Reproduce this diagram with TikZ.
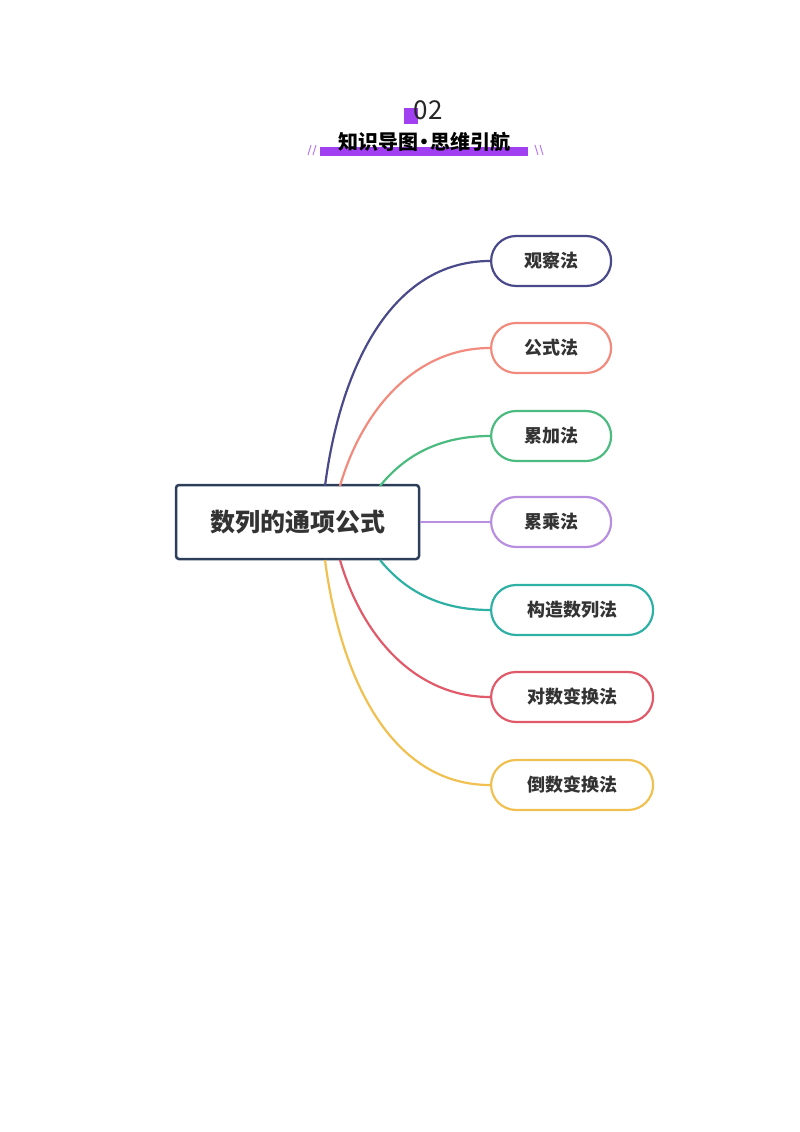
\documentclass[tikz,border=0pt]{standalone}
\usepackage{fontspec}
\setmainfont{Noto Sans CJK SC}
\begin{document}
\begin{tikzpicture}[x=1pt,y=-1pt]
\definecolor{cnavy}{HTML}{2C3E5A}
\definecolor{c1}{HTML}{4A4A8A}
\definecolor{c2}{HTML}{F28B7D}
\definecolor{c3}{HTML}{4CBB7F}
\definecolor{c4}{HTML}{B88FE0}
\definecolor{c5}{HTML}{2FB0A5}
\definecolor{c6}{HTML}{E05A6A}
\definecolor{c7}{HTML}{F0C050}
\definecolor{cpur}{HTML}{A040F0}
\tikzset{pill/.style={draw=#1,line width=2.2pt,rounded corners=25pt,minimum height=50pt,anchor=west,font=\bfseries\fontsize{18}{18}\selectfont,text=black!80,inner sep=0pt},
 conn/.style={draw=#1,line width=2.2pt}}
\useasboundingbox (0,0) rectangle (800,1132);
% header
\fill[cpur] (404,108) rectangle (418,124);
\node[font=\fontsize{26}{26}\selectfont,text=black!85] (num) at (428,110) {02};
\fill[cpur] (320,147) rectangle (528,156);
\node[font=\bfseries\fontsize{20}{20}\selectfont] (title) at (424,142) {知识导图{\kern-4pt}·{\kern-4pt}思维引航};
\draw[cpur!70,line width=1pt] (308,155)--(311,145) (313,155)--(316,145) (535,145)--(538,155) (540,145)--(543,155);
% center
\node[draw=cnavy,line width=2.5pt,rounded corners=3pt,minimum width=243pt,minimum height=74pt,font=\bfseries\fontsize{25}{25}\selectfont,text=black!80] (root) at (297.5,522) {数列的通项公式};
\node[pill=c1,minimum width=120pt] (n1) at (490,261) {观察法};
\node[pill=c2,minimum width=120pt] (n2) at (490,348) {公式法};
\node[pill=c3,minimum width=120pt] (n3) at (490,436) {累加法};
\node[pill=c4,minimum width=120pt] (n4) at (490,522) {累乘法};
\node[pill=c5,minimum width=162pt] (n5) at (490,610) {构造数列法};
\node[pill=c6,minimum width=162pt] (n6) at (490,697) {对数变换法};
\node[pill=c7,minimum width=162pt] (n7) at (490,785) {倒数变换法};
\coordinate (s1) at (325,486); \coordinate (s2) at (340,486); \coordinate (s3) at (380,486);
\coordinate (s5) at (380,560); \coordinate (s6) at (340,560); \coordinate (s7) at (325,560);
\draw[conn=c1] (s1) .. controls (340,370) and (390,261) .. (n1.west);
\draw[conn=c2] (s2) .. controls (362,410) and (415,348) .. (n2.west);
\draw[conn=c3] (s3) .. controls (405,455) and (440,436) .. (n3.west);
\draw[conn=c4] (root.east) -- (n4.west);
\draw[conn=c5] (s5) .. controls (405,591) and (440,610) .. (n5.west);
\draw[conn=c6] (s6) .. controls (362,636) and (415,697) .. (n6.west);
\draw[conn=c7] (s7) .. controls (340,676) and (390,785) .. (n7.west);
\end{tikzpicture}
\end{document}
